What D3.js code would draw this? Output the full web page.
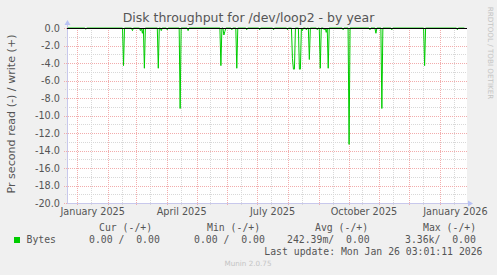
<!DOCTYPE html>
<html>
<head>
    <meta charset="utf-8">
    <style>
        body { margin: 0; background: #f0f0f0; }
        svg { display: block; }
        .tick-label { font-family: 'DejaVu Sans', sans-serif; font-size: 9.7px; fill: #555; }
        .title { font-family: 'DejaVu Sans', sans-serif; font-size: 12.5px; fill: #555; }
        .unit { font-family: 'DejaVu Sans', sans-serif; font-size: 11.1px; fill: #555; }
        .legend { font-family: 'DejaVu Sans Mono', monospace; font-size: 9.8px; fill: #555; white-space: pre; }
        .watermark { font-family: 'DejaVu Sans', sans-serif; font-size: 7.2px; fill: #c4c4c4; }
    </style>
</head>
<body>
<svg width="497" height="275"></svg>

<script src="https://d3js.org/d3.v7.min.js"></script>
<script>
    // time range shown (munin "year" = 400 days)
    let rangeStart = "2024-12-21T15:00:00"
    let rangeEnd = "2026-01-28T04:00:00"
    let seriesStart = "2024-12-22"
    let seriesEnd = "2026-01-26"

    // read (-) days with traffic, everything else is 0
    let readDays = [
        "2025-01-09", "2025-02-16", "2025-02-25", "2025-03-05", "2025-03-07", "2025-03-09",
        "2025-03-23", "2025-03-26", "2025-04-01", "2025-04-14", "2025-04-22", "2025-05-25",
        "2025-05-28", "2025-05-29", "2025-06-05", "2025-06-10", "2025-06-20", "2025-07-03",
        "2025-07-17", "2025-07-31", "2025-08-05", "2025-08-06", "2025-08-07", "2025-08-12",
        "2025-08-13", "2025-08-15", "2025-08-19", "2025-08-22", "2025-08-30", "2025-09-02",
        "2025-09-06", "2025-09-08", "2025-09-10", "2025-09-25", "2025-10-01", "2025-10-22",
        "2025-10-28", "2025-11-03", "2025-11-13", "2025-12-16", "2026-01-18"
    ]
    let readValues = [
        -0.15, -4.3, -0.3, -0.3, -0.6, -4.6,
        -4.6, -0.3, -0.2, -9.2, -0.3, -4.3,
        -0.8, -0.4, -0.2, -4.6, -0.2, -0.2,
        -0.2, -0.2, -3.5, -4.7, -4.7, -4.7,
        -4.7, -0.3, -0.2, -3.6, -0.2, -4.6,
        -0.2, -0.5, -4.6, -0.2, -13.3, -0.2,
        -0.6, -9.2, -0.2, -4.3, -0.2
    ]

    let yTicks = [0, -2, -4, -6, -8, -10, -12, -14, -16, -18, -20]
    let yMinor = [-1, -3, -5, -7, -9, -11, -13, -15, -17, -19]
    let xLabels = ["January 2025", "April 2025", "July 2025", "October 2025", "January 2026"]
    let xLabelMonths = ["2025-01-01", "2025-04-01", "2025-07-01", "2025-10-01", "2026-01-01"]

    let legendHeaders = ["Cur (-/+)", "Min (-/+)", "Avg (-/+)", "Max (-/+)"]
    let legendValues = ["0.00 /  0.00", "0.00 /  0.00", "242.39m/  0.00", "3.36k/  0.00"]
    let lastUpdate = "Last update: Mon Jan 26 03:01:11 2026"

    let svg = d3.select("svg")
    let plot = { left: 67, right: 467, top: 28, bottom: 203 }

    let x = d3.scaleTime()
        .domain([new Date(rangeStart), new Date(rangeEnd)])
        .range([plot.left, plot.right])

    let y = d3.scaleLinear()
        .domain([-20, 0])
        .range([plot.bottom, plot.top])

    // plot background
    svg.append("rect")
        .attr("x", plot.left)
        .attr("y", plot.top)
        .attr("width", plot.right - plot.left)
        .attr("height", plot.bottom - plot.top)
        .attr("fill", "#fff")

    // grid
    let months = d3.timeMonth.range(x.domain()[0], x.domain()[1])
    let mids = months.map(m => d3.timeDay.offset(m, 14)).filter(d => d < x.domain()[1])

    let grid = svg.append("g")
    grid.selectAll(".vminor")
        .data(mids)
        .join("line")
        .attr("x1", d => Math.round(x(d)) + 0.5)
        .attr("x2", d => Math.round(x(d)) + 0.5)
        .attr("y1", plot.top)
        .attr("y2", plot.bottom + 2)
        .attr("stroke", "#d8d8d8")
        .attr("stroke-dasharray", "1,1")

    grid.selectAll(".hminor")
        .data(yMinor)
        .join("line")
        .attr("x1", plot.left - 2)
        .attr("x2", plot.right)
        .attr("y1", d => Math.round(y(d)) + 0.5)
        .attr("y2", d => Math.round(y(d)) + 0.5)
        .attr("stroke", "#d8d8d8")
        .attr("stroke-dasharray", "1,1")

    grid.selectAll(".vmajor")
        .data(months)
        .join("line")
        .attr("x1", d => Math.round(x(d)) + 0.5)
        .attr("x2", d => Math.round(x(d)) + 0.5)
        .attr("y1", plot.top)
        .attr("y2", plot.bottom + 3)
        .attr("stroke", "#f2acac")
        .attr("stroke-dasharray", "1,1")

    grid.selectAll(".hmajor")
        .data(yTicks)
        .join("line")
        .attr("x1", plot.left - 3)
        .attr("x2", plot.right)
        .attr("y1", d => Math.round(y(d)) + 0.5)
        .attr("y2", d => Math.round(y(d)) + 0.5)
        .attr("stroke", "#f2acac")
        .attr("stroke-dasharray", "1,1")

    // axes lines + arrows
    svg.append("line")
        .attr("x1", plot.left + 0.5).attr("x2", plot.left + 0.5)
        .attr("y1", plot.top - 4).attr("y2", plot.bottom)
        .attr("stroke", "#c8c8ec")
    svg.append("line")
        .attr("x1", plot.left).attr("x2", plot.right + 2)
        .attr("y1", plot.bottom + 0.5).attr("y2", plot.bottom + 0.5)
        .attr("stroke", "#c8c8ec")
    svg.append("path")
        .attr("d", `M${plot.left - 2.5},${plot.top - 3} L${plot.left + 0.5},${plot.top - 8} L${plot.left + 3.5},${plot.top - 3} Z`)
        .attr("fill", "#b8c2f4")
    svg.append("path")
        .attr("d", `M${plot.right + 1},${plot.bottom - 2.5} L${plot.right + 6},${plot.bottom + 0.5} L${plot.right + 1},${plot.bottom + 3.5} Z`)
        .attr("fill", "#b8c2f4")

    // y tick labels
    svg.append("g")
        .selectAll("text")
        .data(yTicks)
        .join("text")
        .attr("class", "tick-label")
        .attr("x", plot.left - 7)
        .attr("y", d => y(d) + 3.5)
        .attr("text-anchor", "end")
        .text(d => d3.format(".1f")(d).replace("−", "-"))

    // x labels centred on the month
    svg.append("g")
        .selectAll("text")
        .data(xLabels)
        .join("text")
        .attr("class", "tick-label")
        .attr("x", (d, i) => {
            let m = new Date(xLabelMonths[i] + "T00:00:00")
            return (x(m) + x(d3.timeMonth.offset(m, 1))) / 2
        })
        .attr("y", 215)
        .attr("text-anchor", "middle")
        .text(d => d)

    // daily read series
    let readMap = new Map(readDays.map((d, i) => [d, readValues[i]]))
    let fmt = d3.timeFormat("%Y-%m-%d")
    let days = d3.timeDay.range(new Date(seriesStart + "T00:00:00"), new Date(seriesEnd + "T00:00:00"))
    let series = days.map(d => ({ date: d3.timeHour.offset(d, 12), value: readMap.get(fmt(d)) || 0 }))

    let line = d3.line()
        .x(d => x(d.date))
        .y(d => y(d.value))

    svg.append("path")
        .datum(series)
        .attr("d", line)
        .attr("fill", "none")
        .attr("stroke", "#00cc00")
        .attr("stroke-width", 1)

    // zero line
    svg.append("line")
        .attr("x1", plot.left).attr("x2", plot.right)
        .attr("y1", y(0) + 0.5).attr("y2", y(0) + 0.5)
        .attr("stroke", "#000")

    // titles
    svg.append("text")
        .attr("class", "title")
        .attr("x", 248.5)
        .attr("y", 22)
        .attr("text-anchor", "middle")
        .text("Disk throughput for /dev/loop2 - by year")

    svg.append("text")
        .attr("class", "unit")
        .attr("transform", "translate(14.5,114) rotate(-90)")
        .attr("text-anchor", "middle")
        .text("Pr second read (-) / write (+)")

    svg.append("text")
        .attr("class", "watermark")
        .attr("transform", "translate(487.5,53) rotate(90)")
        .attr("text-anchor", "middle")
        .text("RRDTOOL / TOBI OETIKER")

    // legend
    let headerX = [99, 207, 315, 423]
    let valueX = [89, 194, 287, 405]
    svg.append("g")
        .selectAll("text")
        .data(legendHeaders)
        .join("text")
        .attr("class", "legend")
        .attr("x", (d, i) => headerX[i])
        .attr("y", 231)
        .text(d => d)

    svg.append("rect")
        .attr("x", 14).attr("y", 237)
        .attr("width", 6).attr("height", 6)
        .attr("fill", "#00cc00")

    svg.append("text")
        .attr("class", "legend")
        .attr("x", 26.5)
        .attr("y", 243)
        .text("Bytes")

    svg.append("g")
        .selectAll("text")
        .data(legendValues)
        .join("text")
        .attr("class", "legend")
        .attr("x", (d, i) => valueX[i])
        .attr("y", 243)
        .text(d => d)

    svg.append("text")
        .attr("class", "legend")
        .attr("x", 482.5)
        .attr("y", 255)
        .attr("text-anchor", "end")
        .text(lastUpdate)

    svg.append("text")
        .attr("class", "watermark")
        .attr("x", 248)
        .attr("y", 266)
        .attr("text-anchor", "middle")
        .text("Munin 2.0.75")
</script>
</body>
</html>
